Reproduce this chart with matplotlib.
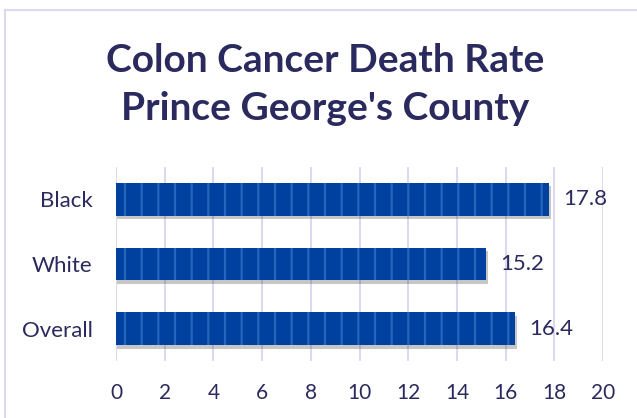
"""Colon cancer death rate by race, Prince George's County."""

import matplotlib.pyplot as plt
from matplotlib import patheffects
from matplotlib.lines import Line2D

categories = ["Overall", "White", "Black"]
rates = [16.4, 15.2, 17.8]
x_ticks = [0, 2, 4, 6, 8, 10, 12, 14, 16, 18, 20]

TEXT_COLOR = "#2b2a5e"
BAR_COLOR = "#0041a0"
STRIPE_COLOR = "#2466bb"
GRID_COLOR = "#dcd8f0"

plt.rcParams["font.family"] = ["Lato", "DejaVu Sans"]
plt.rcParams["hatch.linewidth"] = 1.6

fig = plt.figure(figsize=(6.37, 4.18), dpi=100)
ax = fig.add_axes([116 / 637, 1 - 361 / 418, 487 / 637, 194 / 418])

# soft shadow under each bar
shadow = ax.barh(categories, rates, height=0.51, color=BAR_COLOR, linewidth=0, zorder=2)
for bar in shadow:
    bar.set_path_effects([
        patheffects.SimplePatchShadow(offset=(1, -2.5), alpha=0.3, shadow_rgbFace="#444444"),
        patheffects.Normal(),
    ])

bars = ax.barh(
    categories,
    rates,
    height=0.51,
    color=BAR_COLOR,
    edgecolor=STRIPE_COLOR,
    hatch="|",
    linewidth=0,
    zorder=3,
)

for bar, value in zip(bars, rates):
    ax.annotate(
        f"{value:.1f}",
        xy=(bar.get_width(), bar.get_y() + bar.get_height() / 2),
        xytext=(10, 0),
        textcoords="offset points",
        va="center",
        ha="left",
        fontsize=16,
        color=TEXT_COLOR,
    )

ax.set_xlim(0, 20)
ax.set_ylim(-0.5, 2.5)
ax.set_xticks(x_ticks)
ax.xaxis.grid(True, color=GRID_COLOR, linewidth=1.5, zorder=0)
ax.set_axisbelow(True)
for spine in ax.spines.values():
    spine.set_visible(False)
ax.tick_params(axis="x", length=0, pad=16, labelsize=15, labelcolor=TEXT_COLOR)
ax.tick_params(axis="y", length=0, pad=17, labelsize=16, labelcolor=TEXT_COLOR)

fig.text(
    0.51,
    1 - 60 / 418,
    "Colon Cancer Death Rate",
    ha="center",
    va="center",
    fontsize=28,
    fontweight="bold",
    color=TEXT_COLOR,
)
fig.text(
    0.51,
    1 - 108 / 418,
    "Prince George's County",
    ha="center",
    va="center",
    fontsize=28,
    fontweight="bold",
    color=TEXT_COLOR,
)

# outer chart border, cut off at the right and bottom edges
fig.add_artist(Line2D([5 / 637, 5 / 637], [0, 1 - 10 / 418], color=GRID_COLOR, linewidth=1.5))
fig.add_artist(Line2D([5 / 637, 1], [1 - 10 / 418, 1 - 10 / 418], color=GRID_COLOR, linewidth=1.5))

fig.savefig("out.png", dpi=100)
